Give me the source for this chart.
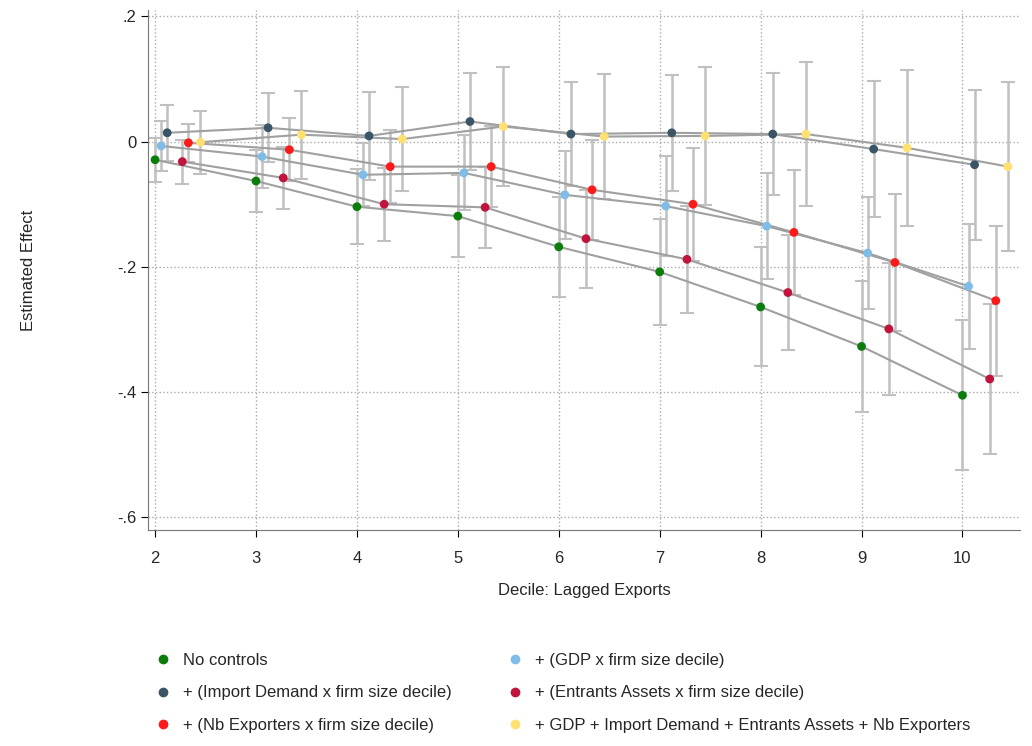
import numpy as np, pandas as pd, seaborn as sns, matplotlib
matplotlib.use("Agg")
import matplotlib.pyplot as plt

deciles = [2,3,4,5,6,7,8,9,10]
labels = ["No controls", "+ (GDP x firm size decile)", "+ (Import Demand x firm size decile)",
          "+ (Entrants Assets x firm size decile)", "+ (Nb Exporters x firm size decile)",
          "+ GDP + Import Demand + Entrants Assets + Nb Exporters"]
colors = ["#0a7d0a", "#7fbde8", "#3a5566", "#c0143c", "#ff1a1a", "#ffe070"]
offsets = [0, 0.06, 0.12, 0.27, 0.33, 0.45]
est_none = [-0.029,-0.063,-0.104,-0.119,-0.168,-0.208,-0.264,-0.327,-0.405]
ci_none = [0.035,0.05,0.06,0.065,0.08,0.085,0.095,0.105,0.12]
est_gdp = [-0.007,-0.024,-0.053,-0.05,-0.085,-0.103,-0.135,-0.178,-0.231]
ci_gdp = [0.04,0.05,0.05,0.06,0.07,0.08,0.085,0.09,0.1]
est_imp = [0.014,0.022,0.009,0.032,0.012,0.014,0.012,-0.012,-0.037]
ci_imp = [0.045,0.055,0.07,0.078,0.083,0.093,0.098,0.108,0.12]
est_ent = [-0.032,-0.058,-0.1,-0.105,-0.155,-0.188,-0.241,-0.299,-0.379]
ci_ent = [0.035,0.05,0.058,0.065,0.078,0.085,0.092,0.105,0.12]
est_nb = [-0.002,-0.013,-0.04,-0.04,-0.077,-0.1,-0.145,-0.193,-0.254]
ci_nb = [0.03,0.05,0.058,0.065,0.08,0.09,0.1,0.11,0.12]
est_all = [-0.001,0.011,0.004,0.024,0.008,0.009,0.012,-0.01,-0.04]
ci_all = [0.05,0.07,0.083,0.095,0.1,0.11,0.115,0.125,0.135]
ests = [est_none, est_gdp, est_imp, est_ent, est_nb, est_all]
cis = [ci_none, ci_gdp, ci_imp, ci_ent, ci_nb, ci_all]

rows = []
for lab, off, e, c in zip(labels, offsets, ests, cis):
    for d, v, w in zip(deciles, e, c):
        rows.append(dict(model=lab, x=d+off, est=v, lo=v-w, hi=v+w))
df = pd.DataFrame(rows)

sns.set_style("white")
plt.rcParams['font.family'] = ['Liberation Sans', 'DejaVu Sans']
fig = plt.figure(figsize=(10.32, 7.46), dpi=100)
ax = fig.add_axes([148/1032, 1-530/746, (1020-148)/1032, 520/746])
for lab in labels:
    s = df[df.model == lab]
    ax.errorbar(s.x, s.est, yerr=[s.est-s.lo, s.hi-s.est], fmt='none',
                ecolor='#c0c0c0', elinewidth=1.8, capsize=5, capthick=1.5, zorder=1)
    ax.plot(s.x, s.est, color='#a0a0a0', lw=1.5, zorder=2)
sns.scatterplot(data=df, x='x', y='est', hue='model', palette=colors, hue_order=labels,
                s=40, edgecolor='none', ax=ax, zorder=3, legend=False)
ax.set_xlim(1.93, 10.57)
ax.set_ylim(-0.62, 0.21)
ax.set_xticks(deciles)
ax.set_yticks([0.2, 0, -0.2, -0.4, -0.6])
ax.set_yticklabels([".2", "0", "-.2", "-.4", "-.6"])
ax.tick_params(labelsize=12, length=5, left=True, bottom=True, color='black')
ax.tick_params(axis='x', pad=10)
ax.grid(True, ls=':', color='#aaaaaa', lw=1)
for sp in ['top', 'right']:
    ax.spines[sp].set_visible(False)
for sp in ['left', 'bottom']:
    ax.spines[sp].set_color('#777777')
ax.set_xlabel("Decile: Lagged Exports", fontsize=12, labelpad=12)
ax.set_ylabel("Estimated Effect", fontsize=12, labelpad=58)
handles = [plt.Line2D([], [], marker='o', ls='', color=c, markersize=6) for c in colors]
order = [0, 2, 4, 1, 3, 5]
fig.legend([handles[i] for i in order], [labels[i] for i in order], ncol=2,
           loc='upper left', bbox_to_anchor=(150/1032, 1-653/746), frameon=False,
           fontsize=12, handletextpad=0.5, handlelength=1.5, columnspacing=3.0, labelspacing=1.05,
           borderpad=0, borderaxespad=0)
fig.savefig("out.png", dpi=100)
